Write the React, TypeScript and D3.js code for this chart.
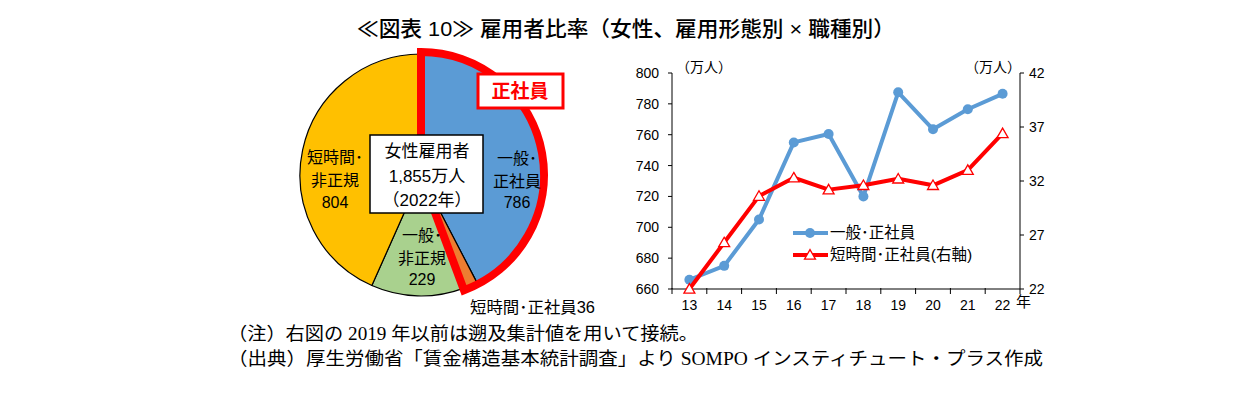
import React from 'react';
import * as d3 from 'd3';

// pie: women employees 2022 (万人)
const pieLabels = ['一般･正社員', '短時間･正社員', '一般･非正規', '短時間･非正規'];
const pieValues = [786, 36, 229, 804];
const pieColors = ['#5B9BD5', '#ED7D31', '#A9D18E', '#FFC000'];

// line chart
const years = ['13', '14', '15', '16', '17', '18', '19', '20', '21', '22'];
const fullTime = [666, 675, 705, 755, 760.5, 720, 787.5, 763.5, 776.5, 786.5];
const shortTime = [22.0, 26.3, 30.6, 32.3, 31.2, 31.6, 32.2, 31.6, 33.0, 36.4];
const leftTicks = [660, 680, 700, 720, 740, 760, 780, 800];
const rightTicks = [22, 27, 32, 37, 42];

const JP = '"Liberation Sans", Arial, "Noto Sans CJK JP", sans-serif';
const SERIF = '"Liberation Serif", "Noto Sans CJK JP", serif';

function Pie() {
  const cx = 421;
  const cy = 175;
  const r = 121;
  const total = d3.sum(pieValues);
  const arcs = d3.pie<number>().sort(null)(pieValues);
  const arc = d3.arc<d3.PieArcDatum<number>>().innerRadius(0).outerRadius(r);
  const seishainEnd = ((pieValues[0] + pieValues[1]) / total) * Math.PI * 2;
  const outline = d3.arc()({ innerRadius: 0, outerRadius: r + 2, startAngle: 0, endAngle: seishainEnd } as any);

  return (
    <g>
      <g transform={`translate(${cx},${cy})`}>
        {arcs.map((a, i) => (
          <path key={i} d={arc(a) || ''} fill={pieColors[i]} stroke="#000" strokeWidth={1.2} />
        ))}
        <path d={outline || ''} fill="none" stroke="#FF0000" strokeWidth={8} strokeLinejoin="miter" />
      </g>
      {/* labels */}
      <g fontFamily={JP} fontSize={16} fill="#000" textAnchor="middle">
        <text x={335} y={163}>短時間･</text>
        <text x={335} y={186}>非正規</text>
        <text x={335} y={208}>{pieValues[3]}</text>
        <text x={517} y={164}>一般･</text>
        <text x={517} y={187}>正社員</text>
        <text x={517} y={208}>{pieValues[0]}</text>
        <text x={422} y={241}>一般･</text>
        <text x={422} y={264}>非正規</text>
        <text x={422} y={285}>{pieValues[2]}</text>
        <text x={470} y={313} textAnchor="start" textLength={125} lengthAdjust="spacingAndGlyphs">
          {pieLabels[1]}{pieValues[1]}
        </text>
      </g>
      <rect x={370} y={135} width={113} height={78} fill="#fff" stroke="#000" strokeWidth={1.5} />
      <g fontFamily={JP} fontSize={17} textAnchor="middle" fill="#000">
        <text x={427} y={157}>女性雇用者</text>
        <text x={427} y={182}>{d3.format(',')(total)}万人</text>
        <text x={427} y={206}>（2022年）</text>
      </g>
      <rect x={478} y={74} width={85} height={34} fill="#fff" stroke="#FF0000" strokeWidth={3} />
      <text x={520} y={98} fontFamily={JP} fontSize={19} fontWeight="bold" fill="#FF0000" textAnchor="middle">
        正社員
      </text>
    </g>
  );
}

function Lines() {
  const left = 672;
  const right = 1020;
  const top = 73;
  const bottom = 289;
  const x = d3.scaleBand().domain(years).range([left, right]);
  const yL = d3.scaleLinear().domain([660, 800]).range([bottom, top]);
  const yR = d3.scaleLinear().domain([22, 42]).range([bottom, top]);
  const cxOf = (d: string) => (x(d) || 0) + x.bandwidth() / 2;
  const blueLine = d3.line<number>().x((_, i) => cxOf(years[i])).y(d => yL(d))(fullTime);
  const redLine = d3.line<number>().x((_, i) => cxOf(years[i])).y(d => yR(d))(shortTime);
  const tri = d3.symbol().type(d3.symbolTriangle).size(52)();
  const blue = '#5B9BD5';
  const red = '#FF0000';

  return (
    <g fontFamily={JP} fontSize={14} fill="#000">
      {/* axes */}
      <line x1={left} x2={left} y1={top} y2={bottom} stroke="#000" />
      <line x1={right} x2={right} y1={top} y2={bottom} stroke="#000" />
      <line x1={left} x2={right} y1={bottom} y2={bottom} stroke="#000" />
      {leftTicks.map(t => (
        <g key={t}>
          <line x1={left - 4} x2={left} y1={yL(t)} y2={yL(t)} stroke="#000" />
          <text x={left - 13} y={yL(t) + 5} textAnchor="end">{t}</text>
        </g>
      ))}
      {rightTicks.map(t => (
        <g key={t}>
          <line x1={right} x2={right + 4} y1={yR(t)} y2={yR(t)} stroke="#000" />
          <text x={right + 9} y={yR(t) + 5}>{t}</text>
        </g>
      ))}
      {years.map(d => (
        <g key={d}>
          <line x1={x(d)} x2={x(d)} y1={bottom - 1} y2={bottom + 5} stroke="#000" />
          <text x={cxOf(d)} y={bottom + 21} textAnchor="middle">{d}</text>
        </g>
      ))}
      <line x1={right} x2={right} y1={bottom} y2={bottom + 5} stroke="#000" />
      <text x={1016} y={bottom + 18} fontSize={15}>年</text>
      <text x={704} y={72} textAnchor="middle">（万人）</text>
      <text x={993} y={72} textAnchor="middle">（万人）</text>

      {/* series */}
      <path d={blueLine || ''} fill="none" stroke={blue} strokeWidth={4} strokeLinejoin="round" />
      {fullTime.map((v, i) => (
        <circle key={i} cx={cxOf(years[i])} cy={yL(v)} r={5} fill={blue} />
      ))}
      <path d={redLine || ''} fill="none" stroke={red} strokeWidth={4} strokeLinejoin="round" />
      {shortTime.map((v, i) => (
        <path key={i} d={tri || ''} transform={`translate(${cxOf(years[i])},${yR(v) + 1})`} fill="#fff" stroke={red} strokeWidth={1.3} />
      ))}

      {/* legend */}
      <line x1={793} x2={828} y1={233} y2={233} stroke={blue} strokeWidth={4} />
      <circle cx={810} cy={233} r={5} fill={blue} />
      <text x={830} y={238} fontSize={15.5}>{pieLabels[0]}</text>
      <line x1={793} x2={828} y1={255} y2={255} stroke={red} strokeWidth={4} />
      <path d={tri || ''} transform="translate(810,256)" fill="#fff" stroke={red} strokeWidth={1.3} />
      <text x={830} y={260} fontSize={15.5}>{pieLabels[1]}(右軸)</text>
    </g>
  );
}

export default function App() {
  return (
    <svg width={1256} height={398} style={{ display: 'block', margin: '-8px 0 0 -8px' }}>
      <rect width={1256} height={398} fill="#fff" />
      <text x={357} y={36} fontFamily={JP} fontSize={21} fontWeight={500} fill="#000" textLength={538} lengthAdjust="spacingAndGlyphs">
        ≪図表 10≫ 雇用者比率（女性、雇用形態別 × 職種別）
      </text>
      <Pie />
      <Lines />
      <g fontFamily={SERIF} fontSize={18} fill="#000">
        <text x={228} y={340} textLength={470} lengthAdjust="spacingAndGlyphs">（注）右図の 2019 年以前は遡及集計値を用いて接続。</text>
        <text x={228} y={365} textLength={815} lengthAdjust="spacingAndGlyphs">
          （出典）厚生労働省「賃金構造基本統計調査」より SOMPO インスティチュート・プラス作成
        </text>
      </g>
    </svg>
  );
}
